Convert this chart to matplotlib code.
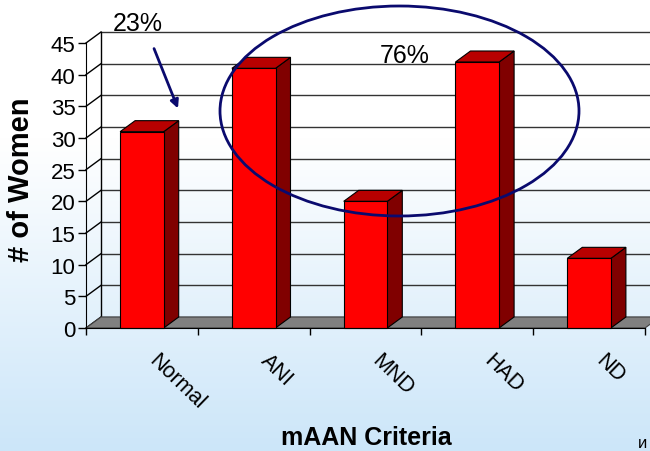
import matplotlib
matplotlib.use("Agg")
import matplotlib.pyplot as plt
from matplotlib.patches import Polygon, Rectangle, Ellipse
import numpy as np

plt.rcParams['font.family'] = ['Liberation Sans', 'DejaVu Sans']

categories = ['Normal', 'ANI', 'MND', 'HAD', 'ND']
women = [31, 41, 20, 42, 11]
yticks = list(range(0, 50, 5))

W, H = 650, 452
fig = plt.figure(figsize=(W / 100, H / 100), dpi=100)

# background gradient (white at top, light blue at bottom)
bg = fig.add_axes([0, 0, 1, 1], zorder=-10)
yy = np.linspace(0, 1, 300)
t = np.clip((yy * H - 140) / (H - 140), 0, 1)
top = np.array([1.0, 1.0, 1.0])
bot = np.array([0xcc, 0xe6, 0xf9]) / 255
grad = top[None, :] * (1 - t[:, None]) + bot[None, :] * t[:, None]
bg.imshow(grad[:, None, :], aspect='auto', extent=[0, 1, 1, 0])
bg.axis('off')

# front plane of the plot in pixels
x0, x1 = 86, 645
y0, y1 = 329, 44
ax = fig.add_axes([x0 / W, (H - y0) / H, (x1 - x0) / W, (y0 - y1) / H])
ax.set_facecolor('none')
n = len(categories)
ax.set_xlim(-0.5, n - 0.5)
ax.set_ylim(0, 45)

pxx = (x1 - x0) / n          # px per category
pxy = (y0 - y1) / 45         # px per unit
dx = 15 / pxx                # depth offset
dy = 11 / pxy

def px(x, y):
    # figure pixel (from top-left) -> data coords
    return -0.5 + (x - x0) / pxx, (y0 - y) / pxy

grid_c = '#333333'
# back wall gridlines and left-wall diagonals
for v in yticks:
    ax.plot([-0.5 + dx, n - 0.5 + dx + 1], [v + dy, v + dy], color=grid_c, lw=1.0,
            clip_on=False, zorder=1)
    ax.plot([-0.5, -0.5 + dx], [v, v + dy], color='black', lw=1.0, clip_on=False, zorder=1)
ax.plot([-0.5 + dx, -0.5 + dx], [dy, 45 + dy], color='black', lw=1.0, clip_on=False, zorder=1)

# floor
floor = Polygon([(-0.5, 0), (n - 0.5, 0), (n - 0.5 + dx, dy), (-0.5 + dx, dy)],
                closed=True, facecolor='#808080', edgecolor='#404040', lw=0.8,
                clip_on=False, zorder=2)
ax.add_patch(floor)

# 3d bars
w = 0.39
for i, v in enumerate(women):
    l, r = i - w / 2, i + w / 2
    side = Polygon([(r, 0), (r + dx, dy), (r + dx, v + dy), (r, v)], closed=True,
                   facecolor='#800000', edgecolor='black', lw=0.8, clip_on=False, zorder=3)
    topf = Polygon([(l, v), (r, v), (r + dx, v + dy), (l + dx, v + dy)], closed=True,
                   facecolor='#b80000', edgecolor='black', lw=0.8, clip_on=False, zorder=3)
    front = Rectangle((l, 0), w, v, facecolor='#ff0000', edgecolor='black', lw=0.8,
                      clip_on=False, zorder=4)
    ax.add_patch(side)
    ax.add_patch(topf)
    ax.add_patch(front)

# axes, ticks
for s in ['top', 'right']:
    ax.spines[s].set_visible(False)
ax.spines['left'].set_zorder(5)
ax.spines['bottom'].set_zorder(5)
ax.set_yticks(yticks)
ax.tick_params(axis='y', direction='out', length=6, width=1, pad=1.5, labelsize=16)
ax.set_xticks(np.arange(-0.5, n, 1.0))
ax.set_xticklabels([])
ax.tick_params(axis='x', direction='out', length=5, width=1)

for i, c in enumerate(categories):
    ax.text(i + 6 / pxx, -33 / pxy, c, rotation=-44, rotation_mode='anchor',
            ha='left', va='baseline', fontsize=15.5, clip_on=False)

ax.set_ylabel('# of Women', fontsize=21, fontweight='bold')
ax.yaxis.label.set_va('center')
ax.yaxis.set_label_coords((21 - x0) / (x1 - x0), (y0 - 180) / (y0 - y1))
ax.text(*px(366, 445), 'mAAN Criteria', ha='center', va='baseline',
        fontsize=18, fontweight='bold', clip_on=False)

# annotations
navy = '#0a0a6e'
ax.add_patch(Ellipse(px(399.5, 112), 359 / pxx, 210 / pxy,
                     fill=False, edgecolor=navy, lw=2.0, clip_on=False, zorder=6))
ax.text(*px(404.5, 63), '76%', ha='center', va='baseline',
        fontsize=18, clip_on=False, zorder=6)
ax.text(*px(138, 31), '23%', ha='center', va='baseline',
        fontsize=18, clip_on=False, zorder=6)
ax.annotate('', xy=px(179, 112), xytext=px(153, 47),
            arrowprops=dict(arrowstyle='-|>', color=navy, lw=2.0, mutation_scale=12),
            annotation_clip=False, zorder=6)

fig.text(638 / W, 1 / H, 'и', fontsize=12, ha='left', va='bottom')

fig.savefig('out.png', dpi=100)
